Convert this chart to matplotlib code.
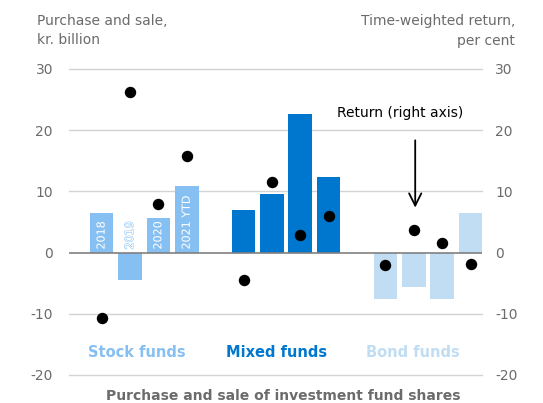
import numpy as np
import matplotlib
matplotlib.use("Agg")
import matplotlib.pyplot as plt
import matplotlib.patheffects as pe

# purchase and sale (kr. billion), per fund type, 2018-2021 YTD
years = ["2018", "2019", "2020", "2021 YTD"]
groups = ["Stock funds", "Mixed funds", "Bond funds"]
stock_flow = [6.4, -4.5, 5.6, 10.8]
mixed_flow = [7.0, 9.6, 22.6, 12.4]
bond_flow = [-7.6, -5.7, -7.6, 6.4]
# time-weighted return (per cent, right axis)
stock_ret = [-10.7, 26.3, 7.9, 15.8]
mixed_ret = [-4.4, 11.5, 2.9, 5.9]
bond_ret = [-2.0, 3.7, 1.6, -1.8]

flows = [stock_flow, mixed_flow, bond_flow]
rets = [stock_ret, mixed_ret, bond_ret]
colors = ["#86BFF2", "#0077CF", "#C0DDF3"]

plt.rcParams.update({"font.family": "DejaVu Sans", "font.size": 10,
                     "axes.unicode_minus": False})
GREY = "#6b6b6b"

fig = plt.figure(figsize=(5.43, 4.03), dpi=100)
ax = fig.add_axes([0.127, 0.0695, 0.761, 0.7593])
ax2 = ax.twinx()

for g, (fl, rt, col) in enumerate(zip(flows, rets, colors)):
    xs = np.arange(len(fl)) + g * 5
    ax.bar(xs, fl, width=0.83, color=col, zorder=3)
    ax2.scatter(xs, rt, s=52, color="black", zorder=5)
    if g == 0:
        for x, lab in zip(xs, years):
            ax.text(x, 0.5, lab, rotation=90, ha="center", va="bottom",
                    fontsize=8, color="white", zorder=4,
                    path_effects=[pe.withStroke(linewidth=0.7, foreground=col)])

for a in (ax, ax2):
    a.set_ylim(-20, 30)
    a.set_yticks(range(-20, 31, 10))
    a.tick_params(length=0, colors=GREY, labelsize=10)
    for s in a.spines.values():
        s.set_visible(False)
ax.set_xlim(-1.15, 13.41)
ax.set_xticks([])
ax.tick_params(axis="y", pad=11.5)
ax2.tick_params(axis="y", pad=9.4)
for v in range(-20, 31, 10):
    if v != 0:
        ax.axhline(v, color="#d3d3d3", lw=1, zorder=0, clip_on=False)
ax.axhline(0, color="#808080", lw=1.2, zorder=4)

# group labels
for lx, name, col in zip([1.24, 6.18, 10.98], groups, colors):
    ax.text(lx, -16.4, name, ha="center", va="center", fontsize=10.5,
            fontweight="bold", color=col)
ax.text(6.4, -23.5, "Purchase and sale of investment fund shares", ha="center",
        va="center", fontsize=10, fontweight="bold", color=GREY, clip_on=False)

# annotation
ax2.annotate("", xy=(11.05, 6.9), xytext=(11.05, 18.8),
             arrowprops=dict(arrowstyle="->", color="black", lw=1.3,
                             mutation_scale=22), zorder=6)
ax2.text(10.52, 22.8, "Return (right axis)", ha="center", va="center",
         fontsize=10, color="black")

fig.text(37 / 543, 1 - 14 / 403, "Purchase and sale,\nkr. billion", ha="left",
         va="top", fontsize=10, color=GREY, linespacing=1.5)
fig.text(515 / 543, 1 - 14 / 403, "Time-weighted return,\nper cent", ha="right",
         va="top", fontsize=10, color=GREY, linespacing=1.5, multialignment="right")

fig.savefig("out.png", dpi=100)
